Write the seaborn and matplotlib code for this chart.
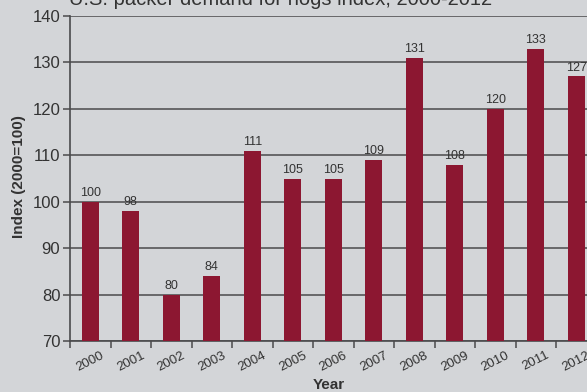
import matplotlib
matplotlib.use("Agg")
import matplotlib.pyplot as plt
from matplotlib.ticker import FixedLocator
import seaborn as sns
import pandas as pd

years = ["2000", "2001", "2002", "2003", "2004", "2005", "2006",
         "2007", "2008", "2009", "2010", "2011", "2012"]
index_values = [100, 98, 80, 84, 111, 105, 105, 109, 131, 108, 120, 133, 127]
y_ticks = [70, 80, 90, 100, 110, 120, 130, 140]

title = "U.S. packer demand for hogs index, 2000-2012"

bg = "#d3d5d8"
bar_color = "#8c1731"
grid_color = "#4a4a4c"
text_color = "#333333"

sns.set_theme(style="white")
plt.rcParams["font.family"] = ["Liberation Sans", "DejaVu Sans"]

W, H = 587, 392
fig = plt.figure(figsize=(W / 100, H / 100), dpi=100, facecolor=bg)

# axes placed in pixel terms; the plot runs slightly past the right edge
left_px, right_px = 70, 70 + 13 * 40.5
top_px, bottom_px = 16, 341
ax = fig.add_axes([left_px / W, 1 - bottom_px / H,
                   (right_px - left_px) / W, (bottom_px - top_px) / H])
ax.set_facecolor(bg)

df = pd.DataFrame({"Year": years, "Index": index_values})
sns.barplot(data=df, x="Year", y="Index", color=bar_color, saturation=1,
            width=0.43, ax=ax, zorder=3, edgecolor=bar_color, linewidth=0)

ax.set_xlim(-0.5, len(years) - 0.5)
ax.set_ylim(70, 140)
ax.set_yticks(y_ticks)
ax.yaxis.grid(True, color=grid_color, linewidth=1.1, zorder=0)
ax.set_axisbelow(True)

for lbl_container in ax.containers:
    ax.bar_label(lbl_container, labels=[str(v) for v in index_values],
                 padding=2, fontsize=9, color=text_color)

for side in ["top", "right"]:
    ax.spines[side].set_visible(False)
for side in ["left", "bottom"]:
    ax.spines[side].set_color(grid_color)
    ax.spines[side].set_linewidth(1.2)

ax.tick_params(axis="y", which="major", direction="out", length=5,
               width=1.1, color=grid_color, labelsize=12, labelcolor=text_color,
               left=True, pad=2)
ax.tick_params(axis="x", which="major", length=0, labelsize=9.5,
               labelcolor=text_color, pad=6)
ax.xaxis.set_minor_locator(FixedLocator([i + 0.5 for i in range(-1, len(years))]))
ax.tick_params(axis="x", which="minor", direction="out", length=5, width=1.1,
               color=grid_color, bottom=True)
for lab in ax.get_xticklabels():
    lab.set_rotation(27)
    lab.set_ha("center")

ax.set_xlabel("")
ax.set_ylabel("")
fig.text(329 / W, 1 - 389 / H, "Year", fontsize=11, fontweight="bold",
         color=text_color, ha="center", va="baseline")
fig.text(19 / W, 1 - 177 / H, "Index (2000=100)", fontsize=11,
         fontweight="bold", color=text_color, rotation=90,
         ha="center", va="center")
fig.text(281 / W, 1 - 5 / H, title, fontsize=14.5, color=text_color,
         ha="center", va="baseline")

fig.savefig("out.png", dpi=100, facecolor=bg)
